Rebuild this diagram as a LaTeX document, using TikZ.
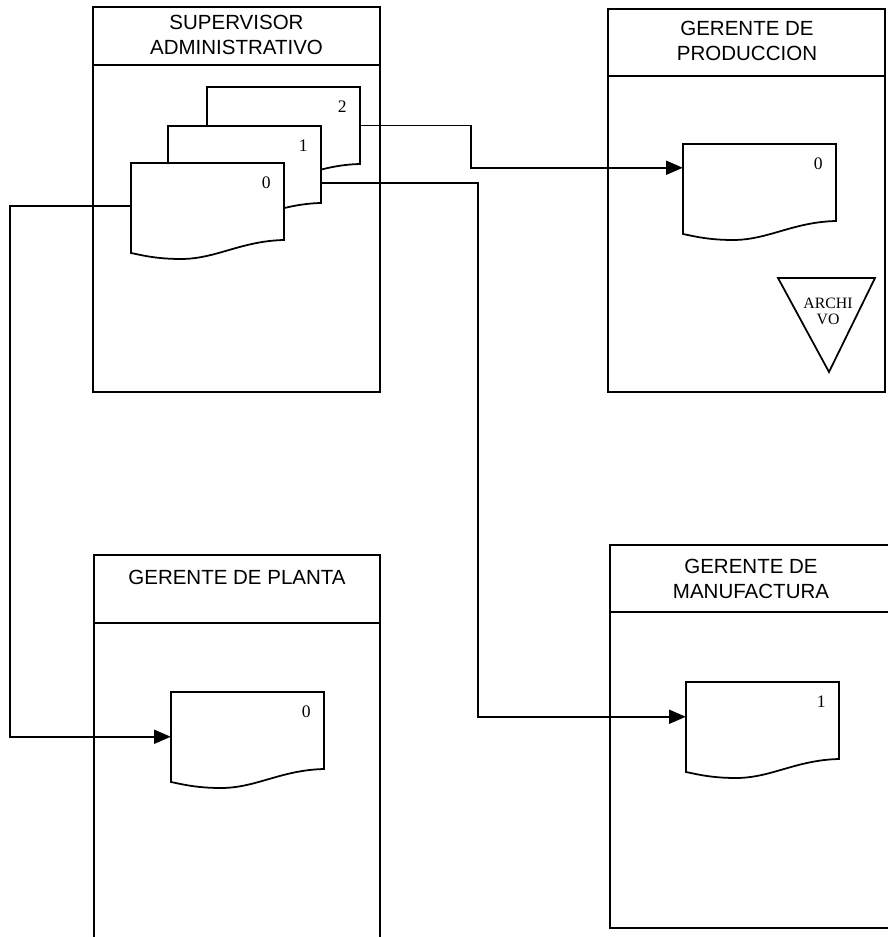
\documentclass[tikz,border=0pt]{standalone}
\usepackage{fontspec}
\setmainfont{Liberation Serif}
\newfontfamily\lanefont{Liberation Sans}
\usetikzlibrary{arrows.meta, calc}

\begin{document}
\begin{tikzpicture}[x=0.03cm, y=-0.03cm,
    lane/.style={draw, line width=1.5pt},
    lanetitle/.style={font=\lanefont\fontsize{17.5}{21}\selectfont, align=center},
    docbox/.style={inner sep=0pt, minimum width=4.59cm, minimum height=2.31cm},
    docnum/.style={font=\fontsize{15}{17}\selectfont},
    flow/.style={-{Triangle[length=0.5cm,width=0.42cm]}, line width=1.4pt}]
    \useasboundingbox (0,0) rectangle (888,937);
    % Lanes
    \draw[lane] (93,7) rectangle (380,392);
    \draw[lane] (93,65) -- (380,65);
    \draw[lane] (608,9) rectangle (885,392);
    \draw[lane] (608,76) -- (885,76);
    \draw[lane] (94,937) -- (94,555) -- (380,555) -- (380,937);
    \draw[lane] (94,623) -- (380,623);
    \draw[lane] (888,545) -- (610,545) -- (610,928) -- (888,928);
    \draw[lane] (610,612) -- (888,612);
    % Lane titles
    \node[lanetitle] (sup-t) at (236.5,35) {SUPERVISOR\\ADMINISTRATIVO};
    \node[lanetitle] (prod-t) at (747,41) {GERENTE DE\\PRODUCCION};
    \node[lanetitle] (plant-t) at (237,577) {GERENTE DE PLANTA};
    \node[lanetitle] (manu-t) at (751,579) {GERENTE DE\\MANUFACTURA};
    % Documents
    \foreach \nm/\x/\y/\lbl in {sup2/207/87/2, sup1/168/126/1, sup0/131/163/0,
                                prod/683/144/0, plant/171/692/0, manu/686/682/1} {
      \filldraw[lane, fill=white] (\x,\y) -- (\x+153,\y) -- (\x+153,\y+77)
         .. controls (\x+110,\y+78) and (\x+85,\y+96) .. (\x+50,\y+96)
         .. controls (\x+25,\y+96) and (\x+10,\y+92) .. (\x,\y+90) -- cycle;
      \node[docbox] (\nm) at (\x+76.5,\y+38.5) {};
      \node[docnum] (\nm-n) at ($(\nm.north east)+(-18,20)$) {\lbl};
    }
    % Archivo
    \draw[lane] (778,278) -- (875,278) -- (829,372) -- cycle;
    \node[font=\fontsize{13.5}{13.5}\selectfont, align=center] (archivo) at (828,311) {ARCHI\\VO};
    % Connectors
    \coordinate (prod-in) at ($(prod.north west)+(0,24)$);
    \coordinate (sup1-out) at ($(sup1.north east)+(0,57)$);
    \coordinate (manu-in) at ($(manu.north west)+(0,35)$);
    \coordinate (sup0-out) at ($(sup0.north west)+(0,43)$);
    \coordinate (plant-in) at ($(plant.north west)+(0,45)$);
    \draw[flow] (sup2.east) -- ++(111,0) |- (prod-in);
    \draw[flow] (sup1-out) -- ++(157,0) |- (manu-in);
    \draw[flow] (sup0-out) -- ++(-121,0) |- (plant-in);
\end{tikzpicture}
\end{document}
